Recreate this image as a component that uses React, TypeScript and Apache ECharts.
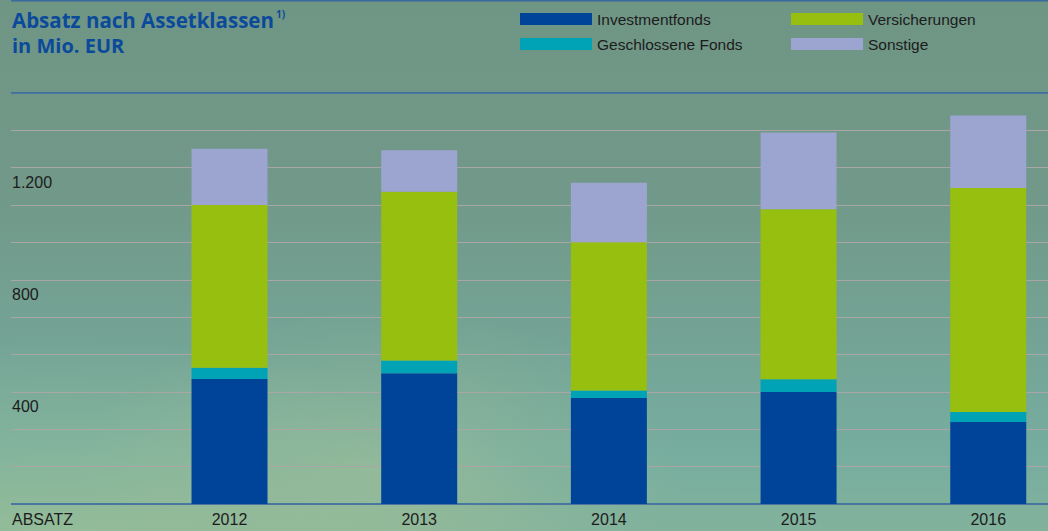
import React, { useEffect, useRef } from "react";
import * as echarts from "echarts";

const years = ["2012", "2013", "2014", "2015", "2016"];
const investmentfonds = [446, 467, 378, 400, 293];
const geschlosseneFonds = [40, 45, 27, 45, 35];
const versicherungen = [581, 602, 529, 607, 800];
const sonstige = [201, 148, 212, 274, 258];
const yTickValues = [400, 800, 1200];
const yTickLabels = ["400", "800", "1.200"];

const C_BLUE = "#00449a";
const C_TEAL = "#00a3b5";
const C_GREEN = "#97bf0f";
const C_LILAC = "#9ba5cf";
const TEXT = "#1c1c1c";
const FONT = "'Liberation Sans', Arial, sans-serif";

export default function App() {
  const ref = useRef<HTMLDivElement>(null);
  useEffect(() => {
    if (!ref.current) return;
    const chart = echarts.init(ref.current, null, { renderer: "svg" });
    const yMax = 4400 / 3;
    const yInt = 400 / 3;
    const xs = years.map((y) => Number(y));
    const yLabel = (v: number) => {
      const r = Math.round(v);
      const i = yTickValues.indexOf(r);
      return i >= 0 ? yTickLabels[i] : "";
    };
    const bar = (name: string, data: number[], color: string) => ({
      name,
      type: "bar",
      stack: "total",
      barWidth: 76,
      dimensions: ["value", "year"],
      encode: { x: 1, y: 0 },
      data: data.map((v, i) => [v, xs[i]]),
      itemStyle: { color },
      emphasis: { disabled: true },
    });
    const legendCommon = {
      orient: "vertical",
      top: 11,
      padding: 0,
      itemWidth: 72,
      itemHeight: 12,
      itemGap: 9,
      icon: "rect",
      selectedMode: false,
      textStyle: { fontFamily: FONT, fontSize: 15.5, color: TEXT },
    };
    chart.setOption({
      animation: false,
      textStyle: { fontFamily: FONT },
      legend: [
        { ...legendCommon, left: 520, data: ["Investmentfonds", "Geschlossene Fonds"] },
        { ...legendCommon, left: 791, data: ["Versicherungen", "Sonstige"] },
      ],
      grid: { left: 11, right: 0, top: 93, bottom: 27 },
      xAxis: {
        type: "value",
        min: 2010.848,
        max: 2016.315,
        splitLine: { show: false },
        axisLine: { show: false },
        axisTick: { show: false },
        axisLabel: {
          customValues: xs,
          color: TEXT,
          fontSize: 16,
          margin: 7,
          fontFamily: FONT,
          formatter: (v: number) => String(Math.round(v)),
        },
      },
      yAxis: {
        type: "value",
        min: 0,
        max: yMax,
        interval: yInt,
        axisLine: { show: false },
        axisTick: { show: false },
        splitLine: { lineStyle: { color: "#aba6a6", width: 1 } },
        axisLabel: {
          inside: true,
          margin: 1,
          align: "left",
          verticalAlign: "top",
          padding: [7, 0, 0, 0],
          color: TEXT,
          fontSize: 16,
          fontFamily: FONT,
          formatter: yLabel,
        },
      },
      series: [
        bar("Investmentfonds", investmentfonds, C_BLUE),
        bar("Geschlossene Fonds", geschlosseneFonds, C_TEAL),
        bar("Versicherungen", versicherungen, C_GREEN),
        bar("Sonstige", sonstige, C_LILAC),
      ],
      graphic: [
        { type: "line", shape: { x1: 11, y1: 0.75, x2: 1048, y2: 0.75 }, style: { stroke: "#3a6a9c", lineWidth: 1.5 }, z: 1 },
        { type: "line", shape: { x1: 11, y1: 93, x2: 1048, y2: 93 }, style: { stroke: "#2f65a0", lineWidth: 1.5 }, z: 1 },
        { type: "line", shape: { x1: 11, y1: 504, x2: 1048, y2: 504 }, style: { stroke: "#2f65a0", lineWidth: 1.5 }, z: 1 },
        {
          type: "text",
          x: 12,
          y: 20,
          style: { text: "Absatz nach Assetklassen", fill: "#0b4a9b", font: "bold 20.5px 'Open Sans', sans-serif", verticalAlign: "middle" },
        },
        {
          type: "text",
          x: 276,
          y: 14,
          style: { text: "1)", fill: "#0b4a9b", font: "bold 10px 'Open Sans', sans-serif", verticalAlign: "middle" },
        },
        {
          type: "text",
          x: 12,
          y: 45,
          style: { text: "in Mio. EUR", fill: "#0b4a9b", font: "bold 20px 'Open Sans', sans-serif", verticalAlign: "middle" },
        },
        {
          type: "text",
          x: 12,
          y: 519,
          style: { text: "ABSATZ", fill: TEXT, font: `16px ${FONT}`, verticalAlign: "middle" },
        },
      ],
    });
    return () => chart.dispose();
  }, []);
  return (
    <div
      style={{
        position: "fixed",
        left: 0,
        top: 0,
        width: 1048,
        height: 531,
        background:
          "radial-gradient(ellipse 300px 160px at 380px 470px, rgba(170,195,150,0.45), rgba(170,195,150,0) 100%), radial-gradient(ellipse 500px 200px at 60px 540px, rgba(160,195,150,0.6), rgba(160,195,150,0) 100%), linear-gradient(180deg, #6f9585 0%, #719888 35%, #74a496 65%, #76ad9f 85%, #82b29c 100%)",
      }}
    >
      <div ref={ref} style={{ width: 1048, height: 531 }} />
    </div>
  );
}
